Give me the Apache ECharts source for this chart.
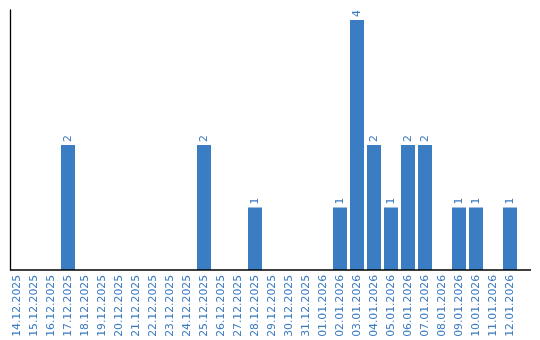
<!DOCTYPE html>
<html><head><meta charset="utf-8">
<script src="https://cdn.jsdelivr.net/npm/echarts@6/dist/echarts.min.js"></script>
<style>html,body{margin:0;padding:0;background:#fff}#c{width:540px;height:340px}</style>
</head><body><div id="c"></div>
<script>
const categories = ["14.12.2025","15.12.2025","16.12.2025","17.12.2025","18.12.2025","19.12.2025","20.12.2025","21.12.2025","22.12.2025","23.12.2025","24.12.2025","25.12.2025","26.12.2025","27.12.2025","28.12.2025","29.12.2025","30.12.2025","31.12.2025","01.01.2026","02.01.2026","03.01.2026","04.01.2026","05.01.2026","06.01.2026","07.01.2026","08.01.2026","09.01.2026","10.01.2026","11.01.2026","12.01.2026"];
const values = [0,0,0,2,0,0,0,0,0,0,0,2,0,0,1,0,0,0,0,1,4,2,1,2,2,0,1,1,0,1];
const yMax = 4.16;

const chart = echarts.init(document.getElementById('c'));
chart.setOption({
  animation: false,
  backgroundColor: '#fff',
  grid: {left: 8.5, top: 10, width: 510, bottom: 70},
  xAxis: {
    type: 'category', data: categories,
    axisLine: {show: false}, axisTick: {show: false},
    axisLabel: {rotate: 90, interval: 0, margin: 5, color: '#3a7bc2', fontFamily: 'DejaVu Sans', fontSize: 10.8}
  },
  yAxis: {
    type: 'value', min: 0, max: yMax, offset: -1.5,
    axisLine: {show: true, lineStyle: {color: '#000', width: 1.3}},
    axisTick: {show: false}, axisLabel: {show: false}, splitLine: {show: false}
  },
  series: [{
    type: 'bar', data: values.map(v => v === 0 ? null : v), barWidth: 14,
    itemStyle: {color: '#3b7dc3'},
    label: {show: true, position: 'top', rotate: 90, align: 'left', verticalAlign: 'middle', distance: 3,
      color: '#3a7bc2', fontFamily: 'DejaVu Sans', fontSize: 10.8}
  }],
  graphic: [{type: 'line', shape: {x1: 10, y1: 270, x2: 531, y2: 270}, style: {stroke: '#000', lineWidth: 1.3}, z: 100}]
});
</script></body></html>
